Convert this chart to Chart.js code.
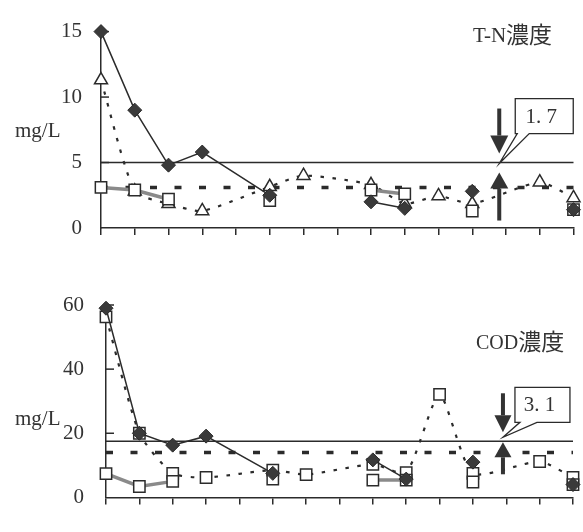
<!DOCTYPE html>
<html>
<head>
<meta charset="utf-8">
<script src="https://cdn.jsdelivr.net/npm/chart.js@4/dist/chart.umd.min.js"></script>
<style>
body { margin: 0; background: #fff; }
#wrap { position: relative; width: 583px; height: 532px; }
canvas { position: absolute; left: 0; }
</style>
</head>
<body>
<div id="wrap">
  <canvas id="tnChart" width="583" height="262" style="top:0px"></canvas>
  <canvas id="codChart" width="583" height="270" style="top:262px"></canvas>
</div>
<script>
// sampling no. (not printed on the axis)
let samples = ['1', '2', '3', '4', '5', '6', '7', '8', '9', '10', '11', '12', '13', '14', '15'];

// T-N
let tnDiamond = [15, 9.0, 4.8, 5.8, null, 2.5, null, null, 2.0, 1.5, null, 2.8, null, null, 1.4];
let tnSquare = [3.1, 2.9, 2.2, null, null, 2.1, null, null, 2.9, 2.6, null, 1.3, null, null, 1.4];
let tnTriangle = [11.3, 2.8, 1.85, 1.3, null, 3.15, 4.0, null, 3.3, 1.85, 2.45, 1.85, null, 3.5, 2.3];
// points that are not joined to the previous one
let tnDiamondBreaks = [8, 11, 14];
let tnSquareBreaks = [5, 8, 11, 14];
let tnTicks = [0, 5, 10, 15];
let tnLimit = 5;
let tnAverage = 3.1;
let tnNote = '1. 7';

// COD
let codDiamond = [59, 20, 16.3, 19.1, null, 7.5, null, null, 11.7, 5.7, null, 11.0, null, null, 4.0];
let codSquare = [7.4, 3.4, 5.0, null, null, 5.7, null, null, 5.4, 5.4, null, 4.8, null, null, 4.0];
let codOpen = [56.3, 20, 7.5, 6.2, null, 8.5, 7.1, null, 10.3, 7.7, 32.1, 7.5, null, 11.2, 6.2];
let codDiamondBreaks = [8, 11, 14];
let codSquareBreaks = [5, 8, 11, 14];
let codTicks = [0, 20, 40, 60];
let codLimit = 17.5;
let codAverage = 14;
let codNote = '3. 1';

let serif = "'Liberation Serif', 'Noto Sans CJK JP', serif";
let ink = '#2b2b2b';

Chart.defaults.font.family = serif;
Chart.defaults.color = '#333';

function arrow(ctx, x, yEnd, yTip, head, headW, shaftW) {
    let dir = yTip > yEnd ? 1 : -1;
    let yBase = yTip - dir * head;
    ctx.fillRect(x - shaftW / 2, Math.min(yEnd, yBase), shaftW, Math.abs(yBase - yEnd));
    ctx.beginPath();
    ctx.moveTo(x - headW / 2, yBase);
    ctx.lineTo(x + headW / 2, yBase);
    ctx.lineTo(x, yTip);
    ctx.closePath();
    ctx.fill();
}

let extras = {
    id: 'extras',
    beforeDatasetsDraw(chart, args, o) {
        let ctx = chart.ctx, area = chart.chartArea, y = chart.scales.y;
        ctx.save();
        ctx.strokeStyle = ink;
        // limit line
        let ly = y.getPixelForValue(o.limit);
        ctx.lineWidth = 1.5;
        ctx.beginPath();
        ctx.moveTo(area.left, ly);
        ctx.lineTo(area.right, ly);
        ctx.stroke();
        // average (dashed)
        let my = y.getPixelForValue(o.average);
        ctx.lineWidth = 3.5;
        ctx.setLineDash([7, 17.5]);
        ctx.beginPath();
        ctx.moveTo(area.left, my);
        ctx.lineTo(area.right, my);
        ctx.stroke();
        ctx.setLineDash([]);
        // inner tick marks on y axis
        ctx.lineWidth = 1.5;
        o.ticks.forEach(function (v) {
            if (v === 0) return;
            let py = y.getPixelForValue(v);
            ctx.beginPath();
            ctx.moveTo(area.left, py);
            ctx.lineTo(area.left + 8, py);
            ctx.stroke();
        });
        ctx.restore();
    },
    afterDatasetsDraw(chart, args, o) {
        let ctx = chart.ctx, x = chart.scales.x, y = chart.scales.y;
        let ax = x.getPixelForValue(o.arrowAt);
        let ly = y.getPixelForValue(o.limit);
        ctx.save();
        ctx.fillStyle = '#333';
        let a = o.arrows;
        arrow(ctx, ax, ly - a.downFrom, ly - a.downTip, a.downHead, a.headW, 4);
        arrow(ctx, ax, ly + a.upFrom, ly + a.upTip, a.upHead, a.headW, 4);

        // callout box
        let b = o.box;
        let bx = ax + b.dx, by = ly - b.dy;
        ctx.beginPath();
        ctx.moveTo(bx, by);
        ctx.lineTo(bx + b.w, by);
        ctx.lineTo(bx + b.w, by + b.h);
        ctx.lineTo(ax + b.p2, by + b.h);
        ctx.lineTo(ax, ly + b.tip);
        ctx.lineTo(ax + b.p1, by + b.h);
        ctx.lineTo(bx, by + b.h);
        ctx.closePath();
        ctx.fillStyle = '#fff';
        ctx.fill();
        ctx.strokeStyle = ink;
        ctx.lineWidth = 1.3;
        ctx.stroke();
        ctx.fillStyle = '#333';
        ctx.font = '21px ' + serif;
        ctx.textAlign = 'center';
        ctx.textBaseline = 'middle';
        ctx.fillText(o.note, bx + b.w / 2 - 3, by + b.h / 2 + 1);

        // title (latin part + kanji part) and unit
        ctx.textAlign = 'left';
        ctx.textBaseline = 'alphabetic';
        ctx.font = o.titleSize + 'px ' + serif;
        ctx.fillText(o.title[0], o.titleX, o.titleY);
        let w = ctx.measureText(o.title[0]).width;
        ctx.font = "23px 'Noto Sans CJK JP', sans-serif";
        ctx.fillText(o.title[1], o.titleX + w, o.titleY + 1);
        ctx.font = '21px ' + serif;
        ctx.textBaseline = 'middle';
        ctx.fillText('mg/L', 15, o.unitY);
        ctx.restore();
    }
};

function seriesSets(diamond, square, open, openStyle, diamondBreaks, squareBreaks) {
    return [
        {
            data: diamond,
            order: 0,
            clip: false,
            borderColor: ink,
            borderWidth: 1.5,
            pointStyle: 'rectRot',
            pointRadius: 7,
            pointBackgroundColor: '#3a3a3a',
            pointBorderColor: '#2a2a2a',
            pointBorderWidth: 1,
            spanGaps: true,
            segment: {
                borderColor: ctx => diamondBreaks.includes(ctx.p1DataIndex) ? 'rgba(0,0,0,0)' : undefined
            }
        },
        {
            data: square,
            order: 1,
            clip: false,
            borderColor: '#8a8a8a',
            borderWidth: 3.5,
            pointStyle: 'rect',
            pointRadius: 8,
            pointBackgroundColor: '#fff',
            pointBorderColor: ink,
            pointBorderWidth: 1.5,
            spanGaps: true,
            segment: {
                borderColor: ctx => squareBreaks.includes(ctx.p1DataIndex) ? 'rgba(0,0,0,0)' : undefined
            }
        },
        {
            data: open,
            order: 2,
            clip: false,
            borderColor: ink,
            borderWidth: 2.2,
            borderDash: [3.5, 8.5],
            tension: 0.2,
            pointStyle: openStyle,
            pointRadius: openStyle === 'triangle' ? 7.5 : 8,
            pointBackgroundColor: '#fff',
            pointBorderColor: ink,
            pointBorderWidth: 1.5,
            spanGaps: true
        }
    ];
}

function makeOptions(cfg) {
    return {
        responsive: false,
        animation: false,
        layout: { padding: { left: 0, right: cfg.padRight, top: cfg.padTop, bottom: 0 } },
        plugins: {
            legend: { display: false },
            tooltip: { enabled: false },
            extras: cfg.extras
        },
        scales: {
            x: {
                offset: false,
                grid: { display: true, drawOnChartArea: false, drawTicks: true, tickLength: 7, color: ink, lineWidth: 1.5, offset: false },
                border: { display: true, color: ink, width: 1.5 },
                ticks: { callback: () => '', maxRotation: 0, autoSkip: false },
                afterFit: s => { s.height = cfg.xHeight; }
            },
            y: {
                min: cfg.ticks[0],
                max: cfg.ticks[cfg.ticks.length - 1],
                grid: { display: false, drawTicks: false },
                border: { display: true, color: ink, width: 1.5 },
                afterBuildTicks: s => { s.ticks = cfg.ticks.map(v => ({ value: v })); },
                ticks: { padding: cfg.tickPad, font: { size: 21 }, color: '#333' },
                afterFit: s => { s.width = cfg.yWidth; }
            }
        }
    };
}

new Chart(document.getElementById('tnChart').getContext('2d'), {
    type: 'line',
    data: {
        labels: samples,
        datasets: seriesSets(tnDiamond, tnSquare, tnTriangle, 'triangle', tnDiamondBreaks, tnSquareBreaks)
    },
    options: makeOptions({
        padRight: 9, padTop: 15, xHeight: 34, yWidth: 101, tickPad: 19, ticks: tnTicks,
        extras: {
            limit: tnLimit, average: tnAverage, ticks: tnTicks, note: tnNote,
            arrowAt: 11.8,
            arrows: { downFrom: 54, downTip: 9, downHead: 18, upFrom: 58, upTip: 10, upHead: 16, headW: 18 },
            box: { dx: 16, dy: 64, w: 58, h: 35, p1: 18, p2: 30, tip: 1 },
            title: ['T-N', '濃度'], titleSize: 21, titleX: 473, titleY: 42, unitY: 131
        }
    }),
    plugins: [extras]
});

new Chart(document.getElementById('codChart').getContext('2d'), {
    type: 'line',
    data: {
        labels: samples,
        datasets: seriesSets(codDiamond, codSquare, codOpen, 'rect', codDiamondBreaks, codSquareBreaks)
    },
    options: makeOptions({
        padRight: 10, padTop: 43, xHeight: 13, yWidth: 106, tickPad: 22, ticks: codTicks,
        extras: {
            limit: codLimit, average: codAverage, ticks: codTicks, note: codNote,
            arrowAt: 11.9,
            arrows: { downFrom: 48, downTip: 9, downHead: 17, upFrom: 33, upTip: 1, upHead: 15, headW: 17 },
            box: { dx: 12, dy: 54, w: 55, h: 35, p1: 17, p2: 34, tip: -4 },
            title: ['COD', '濃度'], titleSize: 20, titleX: 476, titleY: 87, unitY: 157
        }
    }),
    plugins: [extras]
});
</script>
</body>
</html>
